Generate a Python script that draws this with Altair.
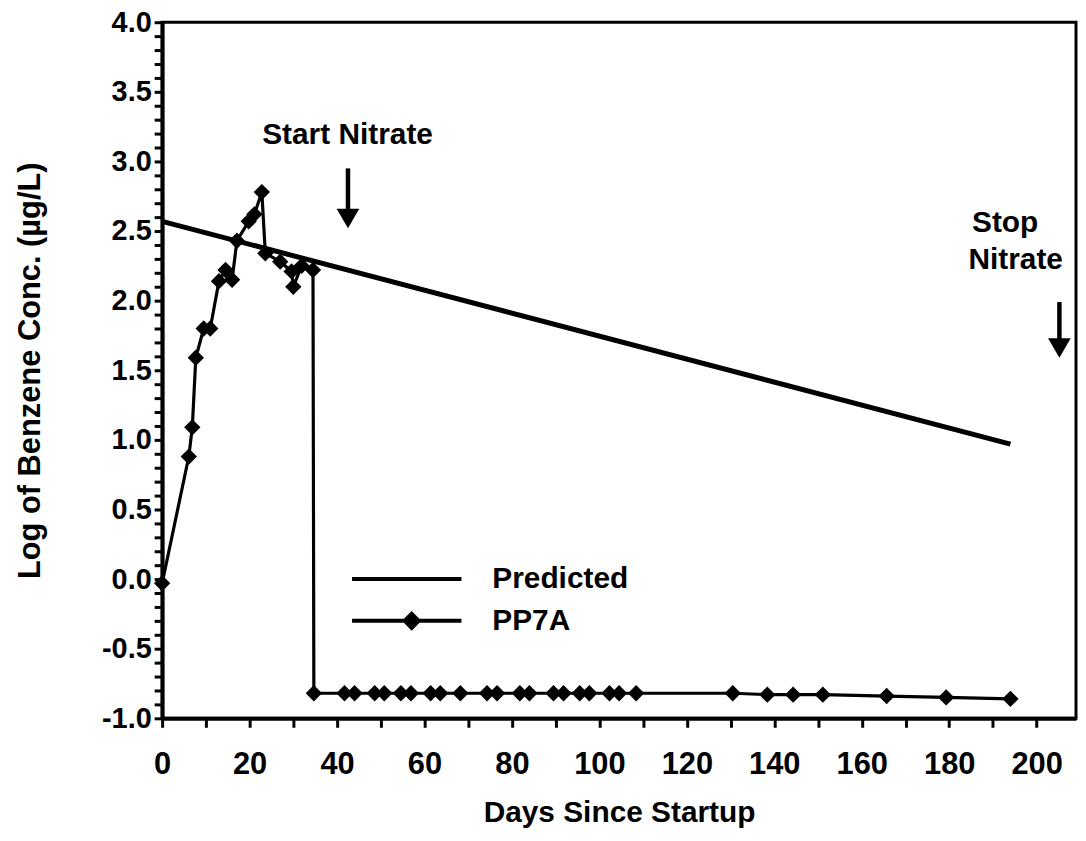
import altair as alt
import pandas as pd

FONT = "Liberation Sans"

# ---------------- data ----------------
series_names = ["Predicted", "PP7A"]

pred_days = [0, 194]
pred_log = [2.57, 0.97]

pp7a_days = [0, 6.1, 6.9, 7.7, 9.5, 11.0, 13.0, 14.5, 16.0, 17.1, 19.8, 21.1, 22.8,
             23.6, 27.0, 29.6, 30.0, 31.9, 34.5,
             34.7, 41.7, 44.0, 48.6, 50.8, 54.6, 56.9, 61.4, 63.6, 68.2, 74.3, 76.6,
             81.8, 84.0, 89.5, 91.8, 95.5, 97.7, 102.3, 104.5, 108.4,
             130.5, 138.4, 144.3, 151.1, 165.7, 179.3, 194.0]
pp7a_log = [-0.03, 0.88, 1.09, 1.59, 1.80, 1.80, 2.14, 2.22, 2.15, 2.43, 2.57, 2.62, 2.78,
            2.34, 2.28, 2.21, 2.10, 2.25, 2.22,
            -0.82, -0.82, -0.82, -0.82, -0.82, -0.82, -0.82, -0.82, -0.82, -0.82, -0.82, -0.82,
            -0.82, -0.82, -0.82, -0.82, -0.82, -0.82, -0.82, -0.82, -0.82,
            -0.82, -0.83, -0.83, -0.83, -0.84, -0.85, -0.86]

x_ticks = [0, 10, 20, 30, 40, 50, 60, 70, 80, 90, 100, 110, 120, 130, 140, 150,
           160, 170, 180, 190, 200]
y_ticks = [-1.0, -0.9, -0.8, -0.7, -0.6, -0.5, -0.4, -0.3, -0.2, -0.1, 0.0,
           0.1, 0.2, 0.3, 0.4, 0.5, 0.6, 0.7, 0.8, 0.9, 1.0,
           1.1, 1.2, 1.3, 1.4, 1.5, 1.6, 1.7, 1.8, 1.9, 2.0,
           2.1, 2.2, 2.3, 2.4, 2.5, 2.6, 2.7, 2.8, 2.9, 3.0,
           3.1, 3.2, 3.3, 3.4, 3.5, 3.6, 3.7, 3.8, 3.9, 4.0]

# annotations
note_text = ["Start Nitrate", "Stop", "Nitrate"]
note_day = [42.4, 192.8, 195.2]
note_log = [3.19, 2.56, 2.29]

arrow_day = [42.5, 205.2]
arrow_top = [2.95, 1.99]
arrow_head = [2.59, 1.66]

# legend symbols (paths in units of 11 px)
legend_paths = ["M-5,0L5,0", "M-5,0L5,0M0.45,-0.64L1.09,0L0.45,0.64L-0.19,0Z"]

# ---------------- frames ----------------
pred_df = pd.DataFrame({"day": pred_days, "log": pred_log, "series": "Predicted"})
pp_df = pd.DataFrame({"day": pp7a_days, "log": pp7a_log, "series": "PP7A"})
note_df = pd.DataFrame({"day": note_day, "log": note_log, "text": note_text})
arrow_df = pd.DataFrame({"day": arrow_day, "top": arrow_top, "head": arrow_head})
legend_df = pd.DataFrame({"series": series_names})

x_scale = alt.Scale(domain=[0, 209], nice=False, zero=False)
y_scale = alt.Scale(domain=[-1.0, 4.0], nice=False, zero=False)

xlab = "datum.value % 20 == 0 ? datum.label : ''"
ylab = ("abs(datum.value * 2 - round(datum.value * 2)) < 0.001 ? "
        "replace(replace(format(datum.value, '.1f'), '\u2212', '-'), '\u2013', '-') : ''")

x_axis = alt.Axis(values=x_ticks, tickCount=100, orient="bottom", tickSize=9, tickWidth=3,
                  labelExpr=xlab, labelOverlap=False, labelBound=False,
                  labelFont=FONT, labelFontSize=31, labelFontWeight="bold",
                  labelPadding=22, labelColor="black", labelFlush=False,
                  title="Days Since Startup", titleFont=FONT, titleFontSize=30,
                  titleFontWeight="bold", titlePadding=19, titleColor="black",
                  domainWidth=4, domainColor="black", tickColor="black", grid=False)
y_axis = alt.Axis(values=y_ticks, tickCount=100, orient="left", tickSize=8, tickWidth=3,
                  labelExpr=ylab, labelOverlap=False, labelBound=False,
                  labelFont=FONT, labelFontSize=29,
                  labelFontWeight="bold", labelPadding=3, labelColor="black",
                  labelFlush=False,
                  title="Log of Benzene Conc. (\u00b5g/L)", titleFont=FONT,
                  titleFontSize=31, titleFontWeight="bold", titlePadding=55,
                  titleColor="black", domainWidth=4, domainColor="black",
                  tickColor="black", grid=False)

pred_line = alt.Chart(pred_df).mark_line(color="black", strokeWidth=5).encode(
    x=alt.X("day:Q", scale=x_scale, axis=x_axis),
    y=alt.Y("log:Q", scale=y_scale, axis=y_axis),
)

pp_line = alt.Chart(pp_df).mark_line(color="black", strokeWidth=3.2).encode(
    x=alt.X("day:Q", scale=x_scale),
    y=alt.Y("log:Q", scale=y_scale),
)

pp_pts = alt.Chart(pp_df).mark_point(shape="diamond", filled=True, color="black",
                                     size=270, opacity=1).encode(
    x=alt.X("day:Q", scale=x_scale),
    y=alt.Y("log:Q", scale=y_scale),
)

notes = alt.Chart(note_df).mark_text(font=FONT, fontSize=30, fontWeight="bold",
                                     color="black", align="center",
                                     baseline="middle").encode(
    x=alt.X("day:Q", scale=x_scale),
    y=alt.Y("log:Q", scale=y_scale),
    text="text:N",
)

shafts = alt.Chart(arrow_df).mark_rule(color="black", strokeWidth=4.5).encode(
    x=alt.X("day:Q", scale=x_scale),
    y=alt.Y("top:Q", scale=y_scale),
    y2="head:Q",
)

heads = alt.Chart(arrow_df).mark_point(shape="triangle-down", filled=True, color="black",
                                       size=520, opacity=1).encode(
    x=alt.X("day:Q", scale=x_scale),
    y=alt.Y("head:Q", scale=y_scale),
)

legend_layer = alt.Chart(legend_df).transform_filter(
    "datum.series == 'none'"
).mark_point(filled=False, fill="black", stroke="black", strokeWidth=4,
             opacity=1, strokeOpacity=1, fillOpacity=1).encode(
    shape=alt.Shape("series:N",
                    scale=alt.Scale(domain=series_names, range=legend_paths),
                    legend=alt.Legend(title=None, orient="none", legendX=231, legendY=545,
                                      symbolSize=484, symbolStrokeWidth=4,
                                      symbolOpacity=1, labelFont=FONT, labelFontSize=30,
                                      labelFontWeight="bold",
                                      labelColor="black", labelOffset=71, rowPadding=11,
                                      padding=0)),
)

chart = alt.layer(pred_line, pp_line, pp_pts, notes, shafts, heads, legend_layer).properties(
    width=919, height=700,
    padding={"left": 155, "top": 12, "right": 2, "bottom": 108},
    autosize=alt.AutoSizeParams(type="none"),
    background="white",
).configure_view(stroke="black", strokeWidth=3)

chart.save("out.html", embed_options={"renderer": "svg", "actions": False})
